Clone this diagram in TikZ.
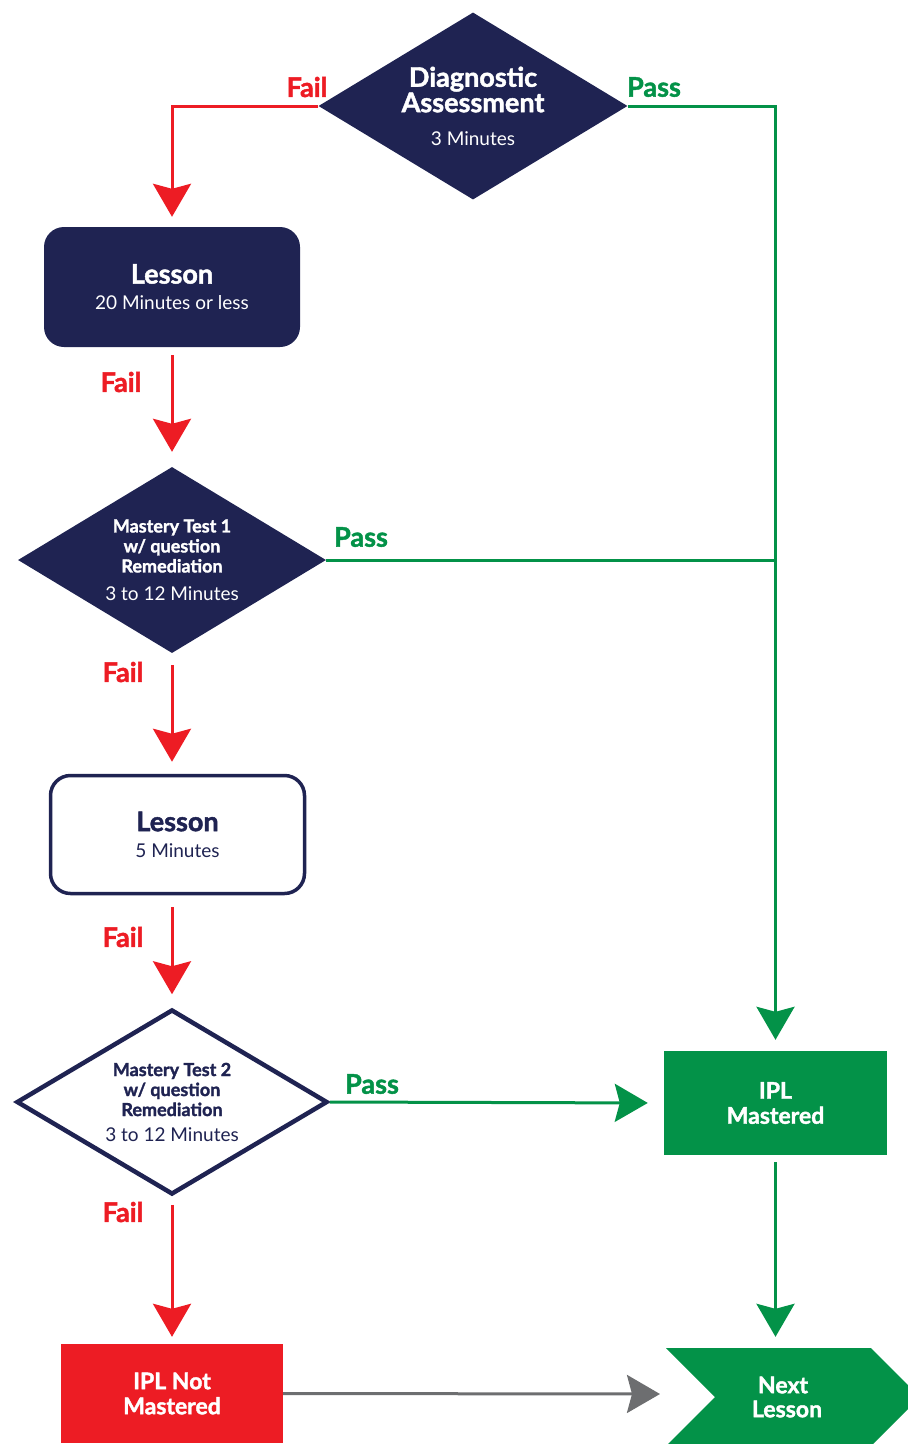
\documentclass[tikz,border=0pt]{standalone}
\usepackage{fontspec}
\setmainfont{Lato}[BoldFeatures={FakeBold=1.6}]
\usepackage{tikz}
\usetikzlibrary{shapes,arrows.meta,positioning}
\tikzset{>=Stealth}
\definecolor{navy}{RGB}{31,35,82}
\definecolor{failred}{RGB}{237,28,36}
\definecolor{passgreen}{RGB}{3,146,72}
\definecolor{nextgray}{RGB}{109,110,112}
\tikzset{
  flow/.style={line width=3pt,-{Stealth[length=33pt,width=38pt,inset=5pt]}},
  failline/.style={flow,draw=failred},
  passline/.style={flow,draw=passgreen},
  nextline/.style={flow,draw=nextgray},
  faillabel/.style={text=failred,font=\bfseries\fontsize{27}{27}\selectfont},
  passlabel/.style={text=passgreen,font=\bfseries\fontsize{27}{27}\selectfont},
  testbox/.style={diamond,aspect=1.65,inner sep=0pt,align=center,
    font=\bfseries\fontsize{18}{20}\selectfont},
  lessonbox/.style={rectangle,rounded corners=20pt,inner sep=0pt,align=center},
  resultbox/.style={rectangle,inner sep=0pt,align=center,text=white,
    font=\bfseries\fontsize{23}{25}\selectfont}
}
\begin{document}
\begin{tikzpicture}[line join=miter,x=1pt,y=-1pt]
	\useasboundingbox (0,0) rectangle (908,1444);
	\node[testbox,fill=navy,text=white,minimum width=309pt,minimum height=187pt,
		font=\bfseries\fontsize{27}{24}\selectfont] (diag) at (473,106)
		{Diagnostic\\Assessment\\[9pt]{\mdseries\fontsize{19}{19}\selectfont 3 Minutes}};
	\node[lessonbox,fill=navy,text=white,minimum width=256pt,minimum height=120pt] (lesA) at (172,287)
		{{\bfseries\fontsize{27}{27}\selectfont Lesson}\\[11pt]{\fontsize{19}{19}\selectfont 20 Minutes or less}};
	\node[testbox,fill=navy,text=white,minimum width=308pt,minimum height=186pt] (mtA) at (172,560)
		{Mastery Test 1\\w/ question\\Remediation\\[8pt]{\mdseries\fontsize{19}{19}\selectfont 3 to 12 Minutes}};
	\node[lessonbox,draw=navy,line width=3.5pt,fill=white,text=navy,minimum width=254pt,minimum height=118pt] (lesB) at (177.5,834.5)
		{{\bfseries\fontsize{27}{27}\selectfont Lesson}\\[11pt]{\fontsize{19}{19}\selectfont 5 Minutes}};
	\node[testbox,draw=navy,line width=4.5pt,fill=white,text=navy,minimum width=311pt,minimum height=185pt] (mtB) at (172,1102)
		{Mastery Test 2\\w/ question\\Remediation\\[5pt]{\mdseries\fontsize{19}{19}\selectfont 3 to 12 Minutes}};
	\node[resultbox,fill=passgreen,minimum width=223pt,minimum height=104pt] (ipl) at (775.5,1103)
		{IPL\\Mastered};
	\node[resultbox,fill=failred,minimum width=222pt,minimum height=99pt] (nm) at (172,1393.5)
		{IPL Not\\Mastered};
	\node[resultbox,signal,signal from=west,signal to=east,signal pointer angle=90,
		fill=passgreen,minimum width=254pt,minimum height=98pt,text width=100pt,
		font=\bfseries\fontsize{23}{24}\selectfont] (next) at (793,1397)
		{\hspace*{-20pt}Next\\\hspace*{-12pt}Lesson};
	\coordinate (nextin) at (660,1394);
	\draw[failline,shorten >=10pt] (diag.west) -| (lesA.north);
	\draw[passline,shorten >=11pt] (diag.east) -| (ipl.north);
	\draw[failline,shorten <=8pt,shorten >=15pt] (lesA.south) -- (mtA.north);
	\draw[passline,-] (mtA.east) -- (mtA.east -| ipl.north);
	\draw[failline,shorten <=12pt,shorten >=12pt] (mtA.south) -- (mtA.south |- lesB.north);
	\draw[failline,shorten <=12pt,shorten >=13pt] (mtB.north |- lesB.south) -- (mtB.north);
	\draw[passline,shorten >=16pt] (mtB.east) -- (ipl.west);
	\draw[passline,shorten <=7pt,shorten >=11pt] (ipl.south) -- (ipl.south |- next.north);
	\draw[failline,shorten <=8pt,shorten >=7pt] (mtB.south) -- (nm.north);
	\draw[nextline] (nm.east) -- (nextin);
	\node[faillabel] (fA) at (307,87) {Fail};
	\node[passlabel] (pA) at (654,87) {Pass};
	\node[faillabel] (fB) at (121,382) {Fail};
	\node[passlabel] (pB) at (361,537) {Pass};
	\node[faillabel] (fC) at (123,672) {Fail};
	\node[faillabel] (fD) at (123,937) {Fail};
	\node[passlabel] (pC) at (372,1084) {Pass};
	\node[faillabel] (fE) at (123,1212) {Fail};
\end{tikzpicture}
\end{document}
